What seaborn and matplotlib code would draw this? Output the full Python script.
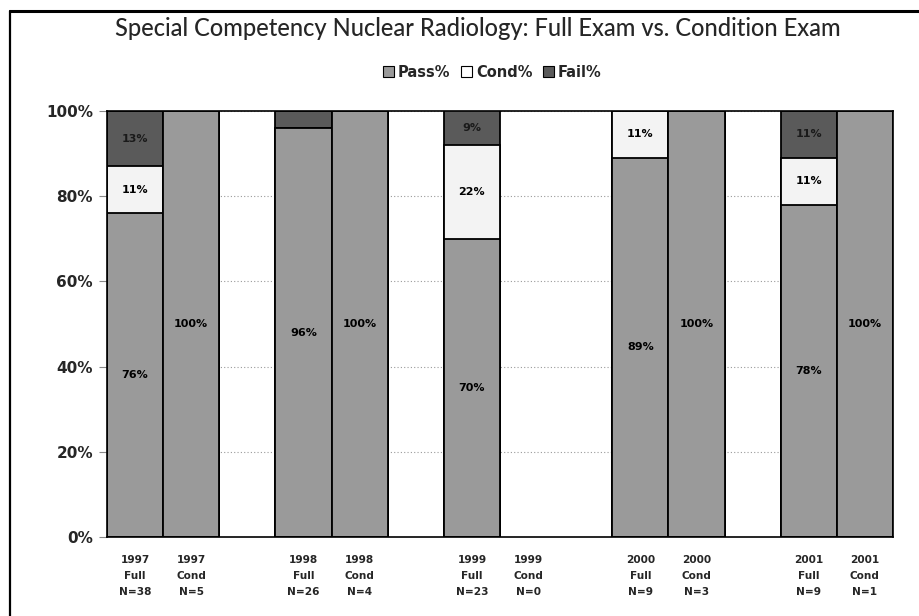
import matplotlib
matplotlib.use("Agg")
import matplotlib.pyplot as plt
import seaborn as sns
import numpy as np
import pandas as pd
from matplotlib.patches import Patch
from matplotlib.lines import Line2D

nan = np.nan
slots = ["1997\nFull\nN=38", "1997\nCond\nN=5", " ",
         "1998\nFull\nN=26", "1998\nCond\nN=4", "  ",
         "1999\nFull\nN=23", "1999\nCond\nN=0", "   ",
         "2000\nFull\nN=9", "2000\nCond\nN=3", "    ",
         "2001\nFull\nN=9", "2001\nCond\nN=1"]
pass_pct = [76, 100, nan, 96, 100, nan, 70, nan, nan, 89, 100, nan, 78, 100]
cond_pct = [11, 0, nan, 0, 0, nan, 22, nan, nan, 11, 0, nan, 11, 0]
fail_pct = [13, 0, nan, 4, 0, nan, 9, nan, nan, 0, 0, nan, 11, 0]
series = ["Pass%", "Cond%", "Fail%"]
title = "Special Competency Nuclear Radiology: Full Exam vs. Condition Exam"

PASS_C = "#9a9a9a"
COND_C = "#f3f3f3"
FAIL_C = "#5a5a5a"

df = pd.DataFrame({"slot": slots, "pass": pass_pct, "cond": cond_pct, "fail": fail_pct})
df["lvl1"] = df["pass"] / 100
df["lvl2"] = (df["pass"] + df["cond"]) / 100
df["lvl3"] = (df["pass"] + df["cond"] + df["fail"]) / 100

sns.set_style("white")
plt.rcParams["font.family"] = ["DejaVu Sans"]

fig = plt.figure(figsize=(9.2, 6.16), dpi=100)
ax = fig.add_axes([107 / 920, 1 - 537 / 616, (893 - 107) / 920, (537 - 111) / 616])

for col, c in [("lvl3", FAIL_C), ("lvl2", COND_C), ("lvl1", PASS_C)]:
    sns.barplot(data=df, x="slot", y=col, order=slots, color=c, saturation=1,
                width=1.0, edgecolor="black", linewidth=1.3, errorbar=None, ax=ax)

ax.set_ylim(0, 1)
ax.set_xlim(-0.5, len(slots) - 0.5)
ax.set_yticks([0, 0.2, 0.4, 0.6, 0.8, 1.0])
ax.set_yticklabels(["0%", "20%", "40%", "60%", "80%", "100%"],
                   fontsize=11, fontweight="bold")
ax.set_xticks(range(len(slots)))
ax.set_xticklabels(slots, fontsize=7.6, fontweight="bold", linespacing=1.75)
ax.tick_params(axis="x", length=0, pad=13)
ax.tick_params(axis="y", length=6, width=0.8, color="#888888", pad=4, left=True)
ax.set_xlabel("")
ax.set_ylabel("")
ax.set_axisbelow(True)
ax.yaxis.grid(True, linestyle=(0, (1, 2)), color="#9a9a9a", linewidth=0.8)
ax.xaxis.grid(False)
for s in ["top", "bottom", "left", "right"]:
    ax.spines[s].set_visible(True)
    ax.spines[s].set_color("black")
    ax.spines[s].set_linewidth(1.2)

# segment labels
for i, row in df.iterrows():
    if np.isnan(row["pass"]):
        continue
    p, c, f = row["pass"], row["cond"], row["fail"]
    if p > 0:
        ax.text(i, p / 200, f"{int(p)}%", ha="center", va="center",
                fontsize=8, fontweight="bold", color="black")
    if c >= 5:
        ax.text(i, (p + c / 2) / 100, f"{int(c)}%", ha="center", va="center",
                fontsize=8, fontweight="bold", color="black")
    if f >= 5:
        ax.text(i, min((p + c + f / 2) / 100, (p + c + 100) / 200), f"{int(f)}%",
                ha="center", va="center", fontsize=8, fontweight="bold", color="#1a1a1a")

# title and legend
fig.text(0.519, 0.953, title, ha="center", va="center", fontsize=17,
         family=["Lato", "DejaVu Sans"], fontweight="medium")
handles = [Patch(facecolor=PASS_C, edgecolor="black", linewidth=0.8),
           Patch(facecolor="white", edgecolor="black", linewidth=0.8),
           Patch(facecolor=FAIL_C, edgecolor="black", linewidth=0.8)]
fig.legend(handles, series, loc="center", bbox_to_anchor=(0.535, 0.883), ncol=3,
           frameon=False, prop={"size": 10.5, "weight": "bold"},
           handlelength=0.75, handleheight=0.75, handletextpad=0.3, columnspacing=0.7)

# page frame lines
fig.add_artist(Line2D([10 / 920, 1.0], [1 - 11 / 616, 1 - 11 / 616],
                      transform=fig.transFigure, color="black", linewidth=2.2))
fig.add_artist(Line2D([10 / 920, 10 / 920], [0, 1 - 11 / 616],
                      transform=fig.transFigure, color="black", linewidth=1.6))

fig.savefig("out.png", dpi=100)
